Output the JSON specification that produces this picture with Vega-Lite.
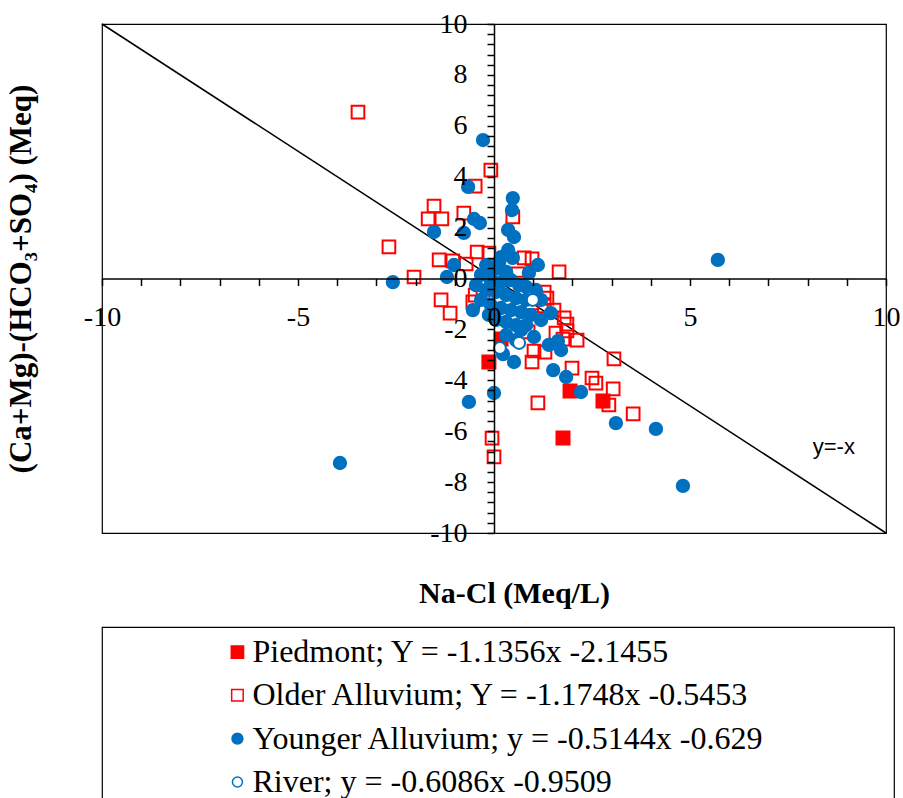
{
  "$schema": "https://vega.github.io/schema/vega-lite/v6.json",
  "background": "white",
  "padding": {"left": 4, "top": 9, "right": 0, "bottom": 0},
  "bounds": "flush",
  "spacing": 94,
  "config": {"view": {"stroke": "black", "strokeWidth": 1.2}, "font": "Liberation Serif"},
  "resolve": {"scale": {"x": "independent", "y": "independent", "size": "independent"}},
  "vconcat": [
    {
      "width": 784,
      "height": 509,
      "resolve": {"axis": {"x": "independent", "y": "independent"}},
      "layer": [
        {
          "data": {"values": [{"x": -10, "y": 10}, {"x": 10, "y": -10}]},
          "mark": {"type": "line", "color": "black", "strokeWidth": 1.5},
          "encoding": {
            "x": {
              "field": "x", "type": "quantitative",
              "scale": {"domain": [-10, 10], "nice": false, "zero": false},
              "axis": {
                "orient": "bottom", "offset": -254.5, "zindex": 1,
                "values": [-10, -5, 0, 5, 10],
                "labelExpr": "'' + datum.value",
                "labelFont": "Liberation Serif", "labelFontSize": 28, "labelColor": "black",
                "labelPadding": 18, "labelFlush": false, "labelOverlap": false, "labelBound": false,
                "tickSize": 7, "tickColor": "black", "tickWidth": 1.5,
                "domainColor": "black", "domainWidth": 1.5, "grid": false,
                "title": "Na-Cl (Meq/L)", "titleFont": "Liberation Serif", "titleFontSize": 30,
                "titleFontWeight": "bold", "titleColor": "black",
                "titleX": 412, "titleY": 314.5, "titleBaseline": "middle", "titleAlign": "center"
              }
            },
            "y": {
              "field": "y", "type": "quantitative",
              "scale": {"domain": [-10, 10], "nice": false, "zero": false},
              "axis": {
                "orient": "left", "offset": -392, "zindex": 1,
                "values": [-10, -8, -6, -4, -2, 0, 2, 4, 6, 8, 10],
                "labelExpr": "'' + datum.value",
                "labelFont": "Liberation Serif", "labelFontSize": 28, "labelColor": "black",
                "labelPadding": 20, "labelFlush": false, "labelOverlap": false, "labelBound": false,
                "tickSize": 7, "tickColor": "black", "tickWidth": 1.5,
                "domainColor": "black", "domainWidth": 1.5, "grid": false,
                "title": "(Ca+Mg)-(HCO₃+SO₄)  (Meq)", "titleFont": "Liberation Serif", "titleFontSize": 31,
                "titleFontWeight": "bold", "titleColor": "black",
                "titleX": -464, "titleY": 254.5, "titleAngle": 270, "titleBaseline": "alphabetic", "titleAlign": "center"
              }
            }
          }
        },
        {
          "data": {"values": [
            {"series": "Piedmont", "x": 0.18, "y": -2.38},
            {"series": "Piedmont", "x": -0.13, "y": -3.28},
            {"series": "Piedmont", "x": 1.94, "y": -4.42},
            {"series": "Piedmont", "x": 2.78, "y": -4.81},
            {"series": "Piedmont", "x": 1.76, "y": -6.27},
            {"series": "Older Alluvium", "x": -3.47, "y": 6.54},
            {"series": "Older Alluvium", "x": -0.08, "y": 4.26},
            {"series": "Older Alluvium", "x": -0.48, "y": 3.63},
            {"series": "Older Alluvium", "x": -1.53, "y": 2.85},
            {"series": "Older Alluvium", "x": -1.68, "y": 2.34},
            {"series": "Older Alluvium", "x": -1.33, "y": 2.34},
            {"series": "Older Alluvium", "x": -0.77, "y": 2.57},
            {"series": "Older Alluvium", "x": 0.48, "y": 2.42},
            {"series": "Older Alluvium", "x": -2.68, "y": 1.24},
            {"series": "Older Alluvium", "x": -2.04, "y": 0.06},
            {"series": "Older Alluvium", "x": -1.4, "y": 0.73},
            {"series": "Older Alluvium", "x": -1.05, "y": 0.69},
            {"series": "Older Alluvium", "x": -0.71, "y": 0.57},
            {"series": "Older Alluvium", "x": -0.43, "y": 1.04},
            {"series": "Older Alluvium", "x": -0.13, "y": 1.0},
            {"series": "Older Alluvium", "x": 0.77, "y": 0.81},
            {"series": "Older Alluvium", "x": 0.97, "y": 0.77},
            {"series": "Older Alluvium", "x": 0.61, "y": 0.18},
            {"series": "Older Alluvium", "x": 0.69, "y": -0.18},
            {"series": "Older Alluvium", "x": 1.66, "y": 0.26},
            {"series": "Older Alluvium", "x": -1.35, "y": -0.84},
            {"series": "Older Alluvium", "x": -1.12, "y": -1.36},
            {"series": "Older Alluvium", "x": -0.54, "y": -0.92},
            {"series": "Older Alluvium", "x": -0.28, "y": -0.73},
            {"series": "Older Alluvium", "x": -0.48, "y": -0.65},
            {"series": "Older Alluvium", "x": 1.28, "y": -0.53},
            {"series": "Older Alluvium", "x": 1.35, "y": -0.77},
            {"series": "Older Alluvium", "x": 0.97, "y": -0.96},
            {"series": "Older Alluvium", "x": 1.28, "y": -1.08},
            {"series": "Older Alluvium", "x": 1.53, "y": -1.24},
            {"series": "Older Alluvium", "x": 1.79, "y": -1.55},
            {"series": "Older Alluvium", "x": 1.86, "y": -1.79},
            {"series": "Older Alluvium", "x": 1.86, "y": -2.06},
            {"series": "Older Alluvium", "x": 1.58, "y": -2.14},
            {"series": "Older Alluvium", "x": 1.76, "y": -2.38},
            {"series": "Older Alluvium", "x": 2.12, "y": -2.42},
            {"series": "Older Alluvium", "x": 0.87, "y": -2.1},
            {"series": "Older Alluvium", "x": 1.02, "y": -2.85},
            {"series": "Older Alluvium", "x": 1.3, "y": -2.89},
            {"series": "Older Alluvium", "x": 0.97, "y": -3.28},
            {"series": "Older Alluvium", "x": 1.99, "y": -3.52},
            {"series": "Older Alluvium", "x": 3.06, "y": -3.16},
            {"series": "Older Alluvium", "x": 2.5, "y": -3.91},
            {"series": "Older Alluvium", "x": 2.6, "y": -4.11},
            {"series": "Older Alluvium", "x": 3.04, "y": -4.34},
            {"series": "Older Alluvium", "x": 2.93, "y": -4.97},
            {"series": "Older Alluvium", "x": 3.55, "y": -5.32},
            {"series": "Older Alluvium", "x": 1.12, "y": -4.89},
            {"series": "Older Alluvium", "x": -0.05, "y": -6.27},
            {"series": "Older Alluvium", "x": 0.0, "y": -7.01},
            {"series": "Younger Alluvium", "x": -0.28, "y": 5.44},
            {"series": "Younger Alluvium", "x": -0.66, "y": 3.6},
            {"series": "Younger Alluvium", "x": 0.48, "y": 3.16},
            {"series": "Younger Alluvium", "x": 0.46, "y": 2.69},
            {"series": "Younger Alluvium", "x": -0.51, "y": 2.34},
            {"series": "Younger Alluvium", "x": -0.36, "y": 2.18},
            {"series": "Younger Alluvium", "x": -0.77, "y": 1.79},
            {"series": "Younger Alluvium", "x": -1.53, "y": 1.83},
            {"series": "Younger Alluvium", "x": 0.36, "y": 1.91},
            {"series": "Younger Alluvium", "x": 0.51, "y": 1.63},
            {"series": "Younger Alluvium", "x": 0.36, "y": 1.12},
            {"series": "Younger Alluvium", "x": 0.48, "y": 0.81},
            {"series": "Younger Alluvium", "x": 0.18, "y": 0.84},
            {"series": "Younger Alluvium", "x": -1.02, "y": 0.53},
            {"series": "Younger Alluvium", "x": -1.2, "y": 0.06},
            {"series": "Younger Alluvium", "x": -2.58, "y": -0.14},
            {"series": "Younger Alluvium", "x": 1.12, "y": 0.53},
            {"series": "Younger Alluvium", "x": 0.89, "y": 0.22},
            {"series": "Younger Alluvium", "x": -0.33, "y": 0.14},
            {"series": "Younger Alluvium", "x": 0.82, "y": -0.33},
            {"series": "Younger Alluvium", "x": 1.45, "y": -1.36},
            {"series": "Younger Alluvium", "x": -0.54, "y": -1.24},
            {"series": "Younger Alluvium", "x": 1.02, "y": -2.3},
            {"series": "Younger Alluvium", "x": 0.23, "y": -2.97},
            {"series": "Younger Alluvium", "x": 0.51, "y": -3.28},
            {"series": "Younger Alluvium", "x": 1.4, "y": -2.61},
            {"series": "Younger Alluvium", "x": 1.63, "y": -2.46},
            {"series": "Younger Alluvium", "x": 1.71, "y": -2.81},
            {"series": "Younger Alluvium", "x": 1.51, "y": -3.6},
            {"series": "Younger Alluvium", "x": 1.84, "y": -3.87},
            {"series": "Younger Alluvium", "x": 2.22, "y": -4.46},
            {"series": "Younger Alluvium", "x": 0.0, "y": -4.5},
            {"series": "Younger Alluvium", "x": -0.64, "y": -4.85},
            {"series": "Younger Alluvium", "x": -3.93, "y": -7.25},
            {"series": "Younger Alluvium", "x": 5.71, "y": 0.73},
            {"series": "Younger Alluvium", "x": 3.11, "y": -5.68},
            {"series": "Younger Alluvium", "x": 4.13, "y": -5.91},
            {"series": "Younger Alluvium", "x": 4.82, "y": -8.15},
            {"series": "Younger Alluvium", "x": -0.2, "y": 0.53},
            {"series": "Younger Alluvium", "x": -0.03, "y": 0.33},
            {"series": "Younger Alluvium", "x": 0.13, "y": 0.41},
            {"series": "Younger Alluvium", "x": 0.31, "y": 0.26},
            {"series": "Younger Alluvium", "x": -0.08, "y": -0.06},
            {"series": "Younger Alluvium", "x": 0.18, "y": -0.14},
            {"series": "Younger Alluvium", "x": 0.43, "y": -0.06},
            {"series": "Younger Alluvium", "x": 0.64, "y": -0.26},
            {"series": "Younger Alluvium", "x": -0.2, "y": -0.45},
            {"series": "Younger Alluvium", "x": 0.05, "y": -0.53},
            {"series": "Younger Alluvium", "x": 0.31, "y": -0.65},
            {"series": "Younger Alluvium", "x": 0.56, "y": -0.77},
            {"series": "Younger Alluvium", "x": 0.82, "y": -0.84},
            {"series": "Younger Alluvium", "x": -0.33, "y": -0.84},
            {"series": "Younger Alluvium", "x": -0.08, "y": -1.04},
            {"series": "Younger Alluvium", "x": 0.18, "y": -1.16},
            {"series": "Younger Alluvium", "x": 0.43, "y": -1.24},
            {"series": "Younger Alluvium", "x": 0.69, "y": -1.32},
            {"series": "Younger Alluvium", "x": 0.94, "y": -1.43},
            {"series": "Younger Alluvium", "x": 0.05, "y": -1.63},
            {"series": "Younger Alluvium", "x": 0.31, "y": -1.71},
            {"series": "Younger Alluvium", "x": 0.56, "y": -1.83},
            {"series": "Younger Alluvium", "x": 0.82, "y": -1.83},
            {"series": "Younger Alluvium", "x": 1.2, "y": -1.63},
            {"series": "Younger Alluvium", "x": 0.31, "y": -2.22},
            {"series": "Younger Alluvium", "x": 0.56, "y": -2.42},
            {"series": "Younger Alluvium", "x": 0.69, "y": -2.02},
            {"series": "Younger Alluvium", "x": 0.13, "y": 0.65},
            {"series": "Younger Alluvium", "x": 1.2, "y": -0.84},
            {"series": "Younger Alluvium", "x": -0.46, "y": -0.26},
            {"series": "Younger Alluvium", "x": -0.13, "y": -1.43},
            {"series": "Younger Alluvium", "x": 1.07, "y": -0.45},
            {"series": "River", "x": 0.64, "y": -2.53},
            {"series": "River", "x": 0.15, "y": -2.73},
            {"series": "River", "x": 0.99, "y": -0.84}
          ]},
          "mark": {"type": "point", "strokeWidth": 2, "opacity": 1},
          "encoding": {
            "x": {"field": "x", "type": "quantitative", "axis": null},
            "y": {"field": "y", "type": "quantitative", "axis": null},
            "shape": {"field": "series", "type": "nominal", "legend": null,
              "scale": {"domain": ["Piedmont", "Older Alluvium", "Younger Alluvium", "River"], "range": ["square", "square", "circle", "circle"]}},
            "fill": {"field": "series", "type": "nominal", "legend": null,
              "scale": {"domain": ["Piedmont", "Older Alluvium", "Younger Alluvium", "River"], "range": ["#FF0000", "transparent", "#0070C0", "white"]}},
            "stroke": {"field": "series", "type": "nominal", "legend": null,
              "scale": {"domain": ["Piedmont", "Older Alluvium", "Younger Alluvium", "River"], "range": ["#FF0000", "#FF0000", "#0070C0", "#0070C0"]}},
            "size": {"field": "series", "type": "nominal", "legend": null,
              "scale": {"domain": ["Piedmont", "Older Alluvium", "Younger Alluvium", "River"], "range": [169, 144, 133, 95]}}
          }
        },
        {
          "data": {"values": [{"x": 8.67, "y": -6.62, "label": "y=-x"}]},
          "mark": {"type": "text", "font": "Liberation Sans", "fontSize": 22, "color": "black", "align": "center", "baseline": "middle"},
          "encoding": {
            "x": {"field": "x", "type": "quantitative",
              "axis": {
                "orient": "bottom", "offset": -254.5, "zindex": 1,
                "values": [-9, -8, -7, -6, -4, -3, -2, -1, 1, 2, 3, 4, 6, 7, 8, 9],
                "labels": false, "domain": false, "grid": false, "title": null,
                "tickSize": 7, "tickColor": "black", "tickWidth": 1.5
              }
            },
            "y": {"field": "y", "type": "quantitative",
              "axis": {
                "orient": "left", "offset": -392, "zindex": 1,
                "values": [-9.6, -9.2, -8.8, -8.4, -7.6, -7.2, -6.8, -6.4, -5.6, -5.2, -4.8, -4.4, -3.6, -3.2, -2.8, -2.4, -1.6, -1.2, -0.8, -0.4, 0.4, 0.8, 1.2, 1.6, 2.4, 2.8, 3.2, 3.6, 4.4, 4.8, 5.2, 5.6, 6.4, 6.8, 7.2, 7.6, 8.4, 8.8, 9.2, 9.6],
                "labels": false, "domain": false, "grid": false, "title": null,
                "tickSize": 7, "tickColor": "black", "tickWidth": 1.5
              }
            },
            "text": {"field": "label"}
          }
        }
      ]
    },
    {
      "width": 792,
      "height": 180,
      "data": {"values": [
        {"series": "Piedmont", "label": "Piedmont; Y = -1.1356x -2.1455"},
        {"series": "Older Alluvium", "label": "Older Alluvium; Y = -1.1748x -0.5453"},
        {"series": "Younger Alluvium", "label": "Younger Alluvium; y = -0.5144x -0.629"},
        {"series": "River", "label": "River; y = -0.6086x -0.9509"}
      ]},
      "encoding": {
        "y": {"field": "series", "type": "nominal", "sort": null, "axis": null,
          "scale": {"type": "point", "padding": 0.577, "domain": ["Piedmont", "Older Alluvium", "Younger Alluvium", "River"]}}
      },
      "layer": [
        {
          "mark": {"type": "point", "strokeWidth": 1.5, "opacity": 1},
          "encoding": {
            "x": {"datum": 0.171, "type": "quantitative", "scale": {"domain": [0, 1]}, "axis": null},
            "shape": {"field": "series", "type": "nominal", "legend": null,
              "scale": {"domain": ["Piedmont", "Older Alluvium", "Younger Alluvium", "River"], "range": ["square", "square", "circle", "circle"]}},
            "fill": {"field": "series", "type": "nominal", "legend": null,
              "scale": {"domain": ["Piedmont", "Older Alluvium", "Younger Alluvium", "River"], "range": ["#FF0000", "transparent", "#0070C0", "white"]}},
            "stroke": {"field": "series", "type": "nominal", "legend": null,
              "scale": {"domain": ["Piedmont", "Older Alluvium", "Younger Alluvium", "River"], "range": ["#FF0000", "#FF0000", "#0070C0", "#0070C0"]}},
            "size": {"field": "series", "type": "nominal", "legend": null,
              "scale": {"domain": ["Piedmont", "Older Alluvium", "Younger Alluvium", "River"], "range": [150, 100, 130, 85]}}
          }
        },
        {
          "mark": {"type": "text", "align": "left", "baseline": "middle", "font": "Liberation Serif", "fontSize": 32, "color": "black"},
          "encoding": {
            "x": {"datum": 0.19, "type": "quantitative", "scale": {"domain": [0, 1]}, "axis": null},
            "text": {"field": "label"}
          }
        }
      ]
    }
  ]
}
